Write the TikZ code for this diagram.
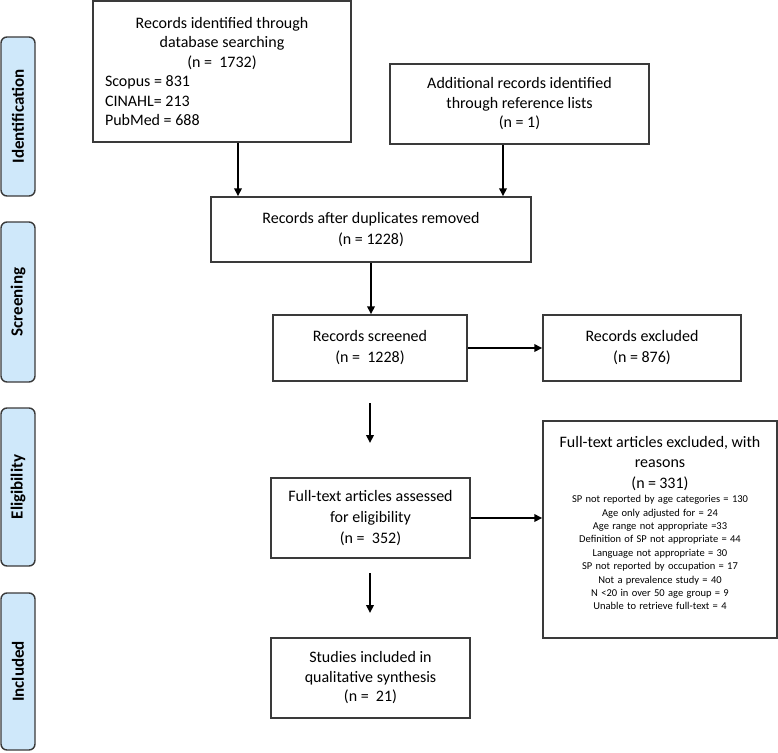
\documentclass[tikz,border=0pt]{standalone}
\usepackage{fontspec}
\setmainfont{Carlito}
\usetikzlibrary{arrows.meta}
\definecolor{sidefill}{HTML}{CFE8FA}
\definecolor{boxline}{HTML}{3A3A3A}
\tikzset{
  box/.style={draw=boxline, line width=1.5pt, fill=white, inner sep=0pt,
    font=\fontsize{16}{19.5}\selectfont, align=center},
  side/.style={draw=boxline, line width=1.4pt, fill=sidefill, rounded corners=6pt,
    rotate=90, minimum height=34pt, inner sep=0pt,
    font=\fontsize{17}{20}\selectfont\bfseries},
  arr/.style={draw=black, line width=2pt, -{Triangle[length=8pt,width=7.5pt]}},
  bodytext/.style={inner sep=0pt}
}
\begin{document}
\begin{tikzpicture}[x=1pt,y=-1pt]
\useasboundingbox (0,0) rectangle (778,752);

% side labels
\node[side, minimum width=159pt] (sid) at (18,116.5) {Identification};
\node[side, minimum width=160pt] (ssc) at (18,302) {Screening};
\node[side, minimum width=158pt] (sel) at (18,487) {Eligibility};
\node[side, minimum width=157pt] (sin) at (18,671.5) {Included};

% boxes
\node[box, minimum width=258pt, minimum height=141pt, text width=234pt, align=none] (b1) at (222,71.3)
  {\centering Records identified through\\database searching\\(n =~~1732)\par
   \raggedright Scopus = 831\\CINAHL= 213\\PubMed = 688\par};
\node[box, minimum width=259pt, minimum height=80pt] (b2) at (519.5,104)
  {Additional records identified\\through reference lists\\(n = 1)};
\node[box, minimum width=320pt, minimum height=65pt, font=\fontsize{16}{21.5}\selectfont] (b3) at (371,229.5)
  {Records after duplicates removed\\(n = 1228)};
\node[box, minimum width=194pt, minimum height=66pt, font=\fontsize{16}{21}\selectfont] (b4) at (370,348)
  {Records screened\\(n =~~1228)};
\node[box, minimum width=198pt, minimum height=66pt, font=\fontsize{16}{21}\selectfont] (b5) at (642,348)
  {Records excluded\\(n = 876)};
\node[box, minimum width=199pt, minimum height=80pt, font=\fontsize{16}{21}\selectfont] (b6) at (370.5,518)
  {Full-text articles assessed\\for eligibility\\(n =~~352)};
\node[box, minimum width=234pt, minimum height=217pt] (b7) at (660,529.5) {};
\node[bodytext, anchor=north, text width=234pt] (b7t) at (660,436)
  {\centering\fontsize{16}{20.5}\selectfont Full-text articles excluded, with\\reasons\\(n = 331)\par
   \vspace{1pt}\fontsize{10.5}{13.4}\selectfont
   SP not reported by age categories = 130\\
   Age only adjusted for = 24\\
   Age range not appropriate =33\\
   Definition of SP not appropriate = 44\\
   Language not appropriate = 30\\
   SP not reported by occupation = 17\\
   Not a prevalence study = 40\\
   N <20 in over 50 age group = 9\\
   Unable to retrieve full-text = 4\par};
\node[box, minimum width=199pt, minimum height=80pt, font=\fontsize{16}{19.5}\selectfont] (b8) at (370.5,678)
  {Studies included in\\qualitative synthesis\\(n =~~21)};

% free arrow ends
\coordinate (f1s) at (370,403);
\coordinate (f1e) at (370,443);
\coordinate (f2s) at (370,573);
\coordinate (f2e) at (370,613);

% connectors
\draw[arr] ([xshift=16pt]b1.south) -- ([xshift=16pt]b1.south |- b3.north);
\draw[arr] ([xshift=-16.5pt]b2.south) -- ([xshift=-16.5pt]b2.south |- b3.north);
\draw[arr] (b3.south) -- (b3.south |- b4.north);
\draw[arr] (b4.east) -- (b4.east -| b5.west);
\draw[arr] (f1s) -- (f1e);
\draw[arr] (b6.east) -- (b6.east -| b7.west);
\draw[arr] (f2s) -- (f2e);
\end{tikzpicture}
\end{document}
